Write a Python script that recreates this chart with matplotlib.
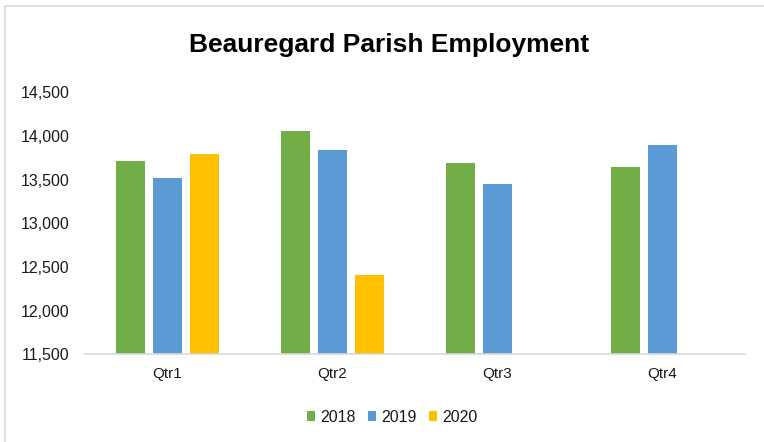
import matplotlib
matplotlib.use("Agg")
import matplotlib.pyplot as plt
import numpy as np
from matplotlib.patches import Rectangle

categories = ["Qtr1", "Qtr2", "Qtr3", "Qtr4"]
years = ["2018", "2019", "2020"]
v2018 = [13715, 14058, 13685, 13640]
v2019 = [13521, 13837, 13448, 13895]
v2020 = [13788, 12404, np.nan, np.nan]
colors = ["#70AD47", "#5B9BD5", "#FFC000"]

plt.rcParams["font.family"] = ["Liberation Sans", "DejaVu Sans"]

W, H = 764, 442
fig = plt.figure(figsize=(W / 100, H / 100), dpi=100)
ax = fig.add_axes([85 / W, 1 - 354.3 / H, 660 / W, (354.3 - 92.3) / H])

x = np.arange(len(categories))
width = 0.176
step = 0.224
for i, (vals, c, lab) in enumerate(zip([v2018, v2019, v2020], colors, years)):
    ax.bar(x + (i - 1) * step, vals, width, color=c, label=lab, zorder=2)

ax.set_xlim(-0.5, len(categories) - 0.5)
ax.set_ylim(11500, 14500)
ax.set_yticks(np.arange(11500, 14501, 500))
ax.yaxis.set_major_formatter(matplotlib.ticker.FuncFormatter(lambda v, p: f"{int(v):,}"))
ax.set_xticks(x)
ax.set_xticklabels(categories)
ax.tick_params(axis="y", length=0, pad=11, labelsize=11.5)
ax.tick_params(axis="x", length=0, pad=9, labelsize=11)
for s in ["top", "right", "left"]:
    ax.spines[s].set_visible(False)
ax.spines["bottom"].set_color("#D9D9D9")
ax.spines["bottom"].set_linewidth(1.2)
for t in ax.get_yticklabels() + ax.get_xticklabels():
    t.set_color("#1a1a1a")

fig.text(389 / W, 1 - 45 / H, "Beauregard Parish Employment", ha="center", va="center",
         fontsize=19, fontweight="bold", color="#000000")

leg = fig.legend(loc="center", bbox_to_anchor=(392 / W, 1 - 417 / H), ncol=3, frameon=False,
                 fontsize=11.5, handlelength=0.55, handleheight=0.55, handletextpad=0.3,
                 columnspacing=0.75)
for t in leg.get_texts():
    t.set_color("#1a1a1a")

fig.patches.append(Rectangle((4.5 / W, -0.2), 1.2, 1.2 - 5.5 / H, transform=fig.transFigure,
                             fill=False, edgecolor="#D9D9D9", linewidth=1.2))

fig.savefig("out.png", dpi=100)
